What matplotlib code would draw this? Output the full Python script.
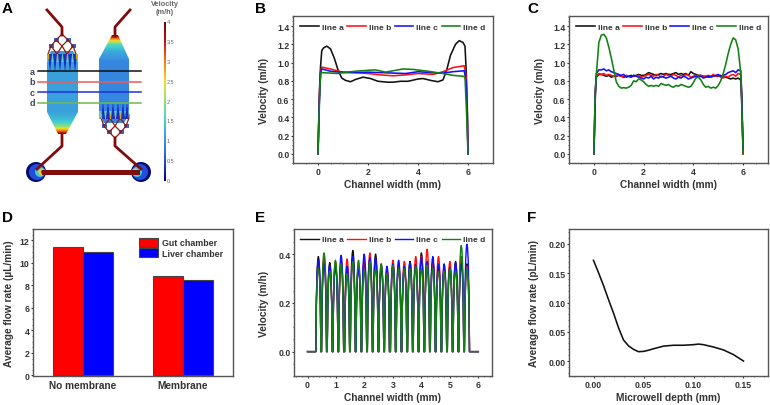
import matplotlib
matplotlib.use("Agg")
import matplotlib.pyplot as plt
import numpy as np
from matplotlib.colors import LinearSegmentedColormap
from matplotlib.patches import Circle, Polygon, Rectangle

plt.rcParams['font.family'] = ['Liberation Sans', 'DejaVu Sans']
plt.rcParams['font.weight'] = 'bold'
plt.rcParams['axes.labelweight'] = 'bold'

W, H = 770, 406
INK = '#333333'
line_names = ['line a', 'line b', 'line c', 'line d']
line_colors = ['#111111', '#ff1010', '#1010ff', '#128012']

# --- panel B ---
b_ax = [0, .03, .06, .1, .15, .22, .35, .5, .65, .8, .95, 1.1, 1.3, 1.5, 1.8, 2.1, 2.4, 2.8, 3.0, 3.3, 3.6, 4.0, 4.2,
        4.5, 4.8, 5.0, 5.15, 5.3, 5.5, 5.65, 5.8, 5.88, 5.93, 5.97, 6.0]
b_ay = [0, .35, .7, .95, 1.13, 1.16, 1.18, 1.15, 1.05, .92, .83, .805, .79, .815, .84, .825, .795, .785, .785, .795, .795, .82, .825,
        .805, .79, .81, .92, 1.08, 1.2, 1.24, 1.22, 1.18, .9, .5, 0]
b_bx = [0, .05, .1, .15, .5, .9, 1.5, 2, 2.5, 3, 3.5, 4, 4.6, 5, 5.4, 5.85, 5.92, 5.97, 6]
b_by = [0, .6, .9, .95, .93, .9, .89, .88, .865, .855, .865, .88, .87, .9, .945, .965, .85, .5, 0]
b_cx = [0, .05, .1, .15, .5, 1, 1.5, 2, 2.5, 3, 3.5, 4, 4.5, 5, 5.4, 5.85, 5.92, 5.97, 6]
b_cy = [0, .55, .88, .93, .905, .89, .89, .895, .89, .885, .88, .9, .89, .885, .9, .91, .8, .45, 0]
b_dx = [0, .04, .08, .12, .5, .8, 1, 1.5, 2, 2.3, 2.7, 3, 3.4, 3.8, 4.4, 5, 5.4, 5.8, 5.88, 5.95, 6]
b_dy = [0, .4, .75, .89, .885, .88, .89, .905, .915, .92, .895, .91, .93, .925, .905, .88, .86, .85, .84, .4, 0]

# --- panel C ---
c_x = [0, .03, .06] + [round(.1 * i, 1) for i in range(1, 60)] + [5.94, 5.97, 6.0]
c_a = [0, .3, .65,
       .84, .87, .87, .86, .85, .86, .84, .85, .85, .86,
       .85, .84, .85, .85, .86, .85, .86, .87, .86, .86,
       .87, .89, .88, .87, .86, .87, .88, .87, .88, .87,
       .87, .88, .89, .87, .88, .87, .88, .86, .90, .88,
       .87, .86, .86, .85, .85, .84, .85, .86, .85, .85,
       .86, .84, .84, .83, .82, .83, .82, .83, .81,
       .6, .3, 0]
c_b = [0, .32, .68,
       .85, .88, .87, .88, .86, .87, .86, .85, .86, .86,
       .85, .85, .86, .85, .84, .86, .85, .86, .84, .85,
       .86, .87, .86, .85, .87, .86, .84, .85, .87, .86,
       .85, .87, .86, .84, .86, .85, .87, .86, .84, .85,
       .86, .85, .86, .84, .85, .86, .85, .87, .85, .86,
       .84, .83, .85, .84, .86, .87, .85, .88, .87,
       .65, .32, 0]
c_c = [0, .35, .7,
       .88, .92, .92, .93, .91, .92, .90, .89, .88, .87,
       .86, .87, .84, .85, .84, .86, .85, .84, .83, .82,
       .84, .83, .85, .82, .84, .83, .85, .84, .83, .84,
       .85, .83, .82, .84, .83, .85, .84, .82, .83, .84,
       .85, .84, .85, .83, .84, .85, .84, .85, .86, .87,
       .85, .86, .87, .89, .90, .91, .89, .92, .91,
       .7, .35, .05]
c_d = [0, .4, .7,
       .87, 1.22, 1.30, 1.31, 1.27, 1.17, 1.05, .92, .79, .74,
       .72, .725, .72, .73, .75, .80, .79, .82, .81, .79,
       .76, .74, .75, .74, .75, .74, .77, .76, .75, .76,
       .74, .73, .75, .74, .76, .75, .74, .73, .74, .78,
       .83, .84, .81, .76, .73, .74, .72, .73, .72, .75,
       .80, .88, .98, 1.10, 1.20, 1.27, 1.25, 1.15, .90,
       .6, .3, 0]

# --- panel D ---
groups = ['No membrane', 'Membrane']
gut_flow = [11.4, 8.8]
liver_flow = [10.95, 8.5]

# --- panel E, peak height of each microwell ---
well_pos = [.38, .58, .78, .98, 1.18, 1.39, 1.59, 1.79, 1.99, 2.19, 2.39, 2.59, 2.79, 3.0,
            3.2, 3.4, 3.6, 3.8, 4.0, 4.2, 4.4, 4.6, 4.8, 5.0, 5.2, 5.4, 5.6]
e_a = [.39, .38, .365, .36, .37, .33, .415, .35, .37, .38, .40, .34, .33, .35, .34, .34, .37, .36, .405, .36, .37, .35, .34, .35, .37, .38, .36]
e_b = [.36, .39, .35, .37, .36, .38, .36, .35, .38, .405, .37, .36, .34, .375, .36, .37, .36, .39, .39, .42, .37, .39, .35, .37, .36, .39, .35]
e_c = [.375, .36, .355, .35, .395, .35, .39, .34, .40, .385, .385, .35, .35, .36, .375, .35, .365, .355, .385, .37, .39, .36, .36, .345, .365, .36, .44]
e_d = [.34, .405, .33, .375, .36, .32, .37, .375, .33, .37, .34, .36, .32, .355, .34, .34, .34, .35, .34, .355, .34, .33, .33, .34, .33, .435, .34]
well_offset = [-.09, -.07, -.045, -.02, 0, .02, .045, .07, .09]
well_shape = [0, .55, .85, .97, 1, .97, .85, .55, 0]

# --- panel F ---
f_x = [0, .005, .01, .015, .02, .025, .03, .035, .04, .045, .05, .055, .06, .07, .08, .09, .1, .105, .11, .12, .13, .14, .15]
f_y = [.172, .151, .129, .105, .082, .057, .036, .026, .020, .016, .0165, .0185, .021, .0255, .027, .027, .028, .029, .028, .024, .019, .011, 0]

# --- panel A ---
cbar_ticks = ['0', '0.5', '1', '1.5', '2', '2.5', '3', '3.5', '4']
field_colors = ['#00007f', '#1f4fdc', '#3a95e0', '#3fd0d0', '#90e080', '#f0e020', '#f08010', '#d01010', '#7f0000']
left_y = [50, 60, 113, 122, 127, 131, 134, 136]
left_v = [1.0, 1.1, 1.1, 1.4, 1.9, 2.8, 3.5, 4.0]
right_y = [36, 38, 41, 45, 52, 62, 124]
right_v = [4.0, 3.4, 2.6, 1.7, 1.2, .9, .9]
left_shape = [(47, 60), (51, 52), (73, 52), (78, 60), (78, 113), (66, 135), (58, 135), (47, 113)]
right_shape = [(112, 36), (118, 36), (129, 60), (129, 115), (124, 124), (104, 124), (99, 115), (99, 60)]


def make_axes(fig, left, top, right, bottom):
    return fig.add_axes([left / W, 1 - bottom / H, (right - left) / W, (bottom - top) / H])


def style_axes(ax, xlabel, ylabel, ypad):
    for s in ax.spines.values():
        s.set_color('#555555')
        s.set_linewidth(1.0)
    ax.minorticks_on()
    ax.tick_params(which='major', direction='out', length=1.6, width=.8, labelsize=6.3, colors=INK, pad=1)
    ax.tick_params(which='minor', direction='out', length=1, width=.5, colors=INK)
    ax.set_xlabel(xlabel, fontsize=7.3, color=INK, labelpad=2.8)
    ax.set_ylabel(ylabel, fontsize=7.3, color=INK, labelpad=ypad)


def add_line_legend(ax):
    ax.legend(loc='upper center', bbox_to_anchor=(.5, 1.0), ncol=4, frameon=False, fontsize=6,
              handlelength=2.25, handleheight=0, handletextpad=.36, columnspacing=.4, borderaxespad=.5,
              labelcolor=INK)


fig = plt.figure(figsize=(W / 100, H / 100), dpi=100)

# schematic on an overlay in pixel coordinates
sk = fig.add_axes([0, 0, 1, 1])
sk.axis('off')
cmap = LinearSegmentedColormap.from_list('field', field_colors)


def fill_field(shape, ys, vs):
    rows = np.linspace(30, 140, 220)
    vals = np.interp(rows, ys, vs).reshape(-1, 1)
    im = sk.imshow(vals, extent=(40, 135, 140, 30), cmap=cmap, vmin=0, vmax=4, aspect='auto', zorder=2)
    im.set_clip_path(Polygon(shape, transform=sk.transData))


def draw_fingers(xs, y_base, y_tip, x_left, x_right):
    mid = y_base + (y_tip - y_base) * .45
    sk.add_patch(Polygon([(x_left, y_base), (x_right, y_base), (x_right, mid), (x_left, mid)],
                         color='#5ccfb0', lw=0, zorder=3))
    for x in xs:
        sk.add_patch(Polygon([(x - 2.1, y_base), (x + 2.1, y_base), (x, y_tip)], color='#1a2fc8', lw=0, zorder=4))


def draw_tree(cx, y0, d):
    # d is +1 when the tree opens downwards, -1 when it opens upwards
    levels = [(0, 0), (-6, 6), (6, 6), (-11, 12), (0, 12), (11, 12), (-14, 20), (-5, 20), (5, 20), (14, 20)]
    edges = [(0, 1), (0, 2), (1, 3), (1, 4), (2, 4), (2, 5), (3, 6), (3, 7), (4, 7), (4, 8), (5, 8), (5, 9)]
    pts = [(cx + dx, y0 + d * dy) for dx, dy in levels]
    for x, y in pts[1:3] + pts[3:6:2]:
        sk.add_patch(Rectangle((x - 2.5, y - 2), 5, 4, color='#3a62c8', lw=0, zorder=3))
    for x, y in [(cx, y0 + d * 6), (cx - 6, y0 + d * 13), (cx + 6, y0 + d * 13)]:
        sk.add_patch(Rectangle((x - 2.4, y - 1.4), 4.8, 2.8, color='white', lw=0, zorder=4))
    for i, j in edges:
        sk.plot([pts[i][0], pts[j][0]], [pts[i][1], pts[j][1]], color='#8b1a10', lw=.9, zorder=5,
                solid_capstyle='round')
    for x, y in pts[6:]:
        sk.plot([x, x], [y, y + d * 4], color='#d8a020', lw=.9, zorder=5)


fill_field(left_shape, left_y, left_v)
fill_field(right_shape, right_y, right_v)
draw_fingers([50, 55, 60, 65, 70, 75], 55, 73, 47, 78)
draw_fingers([103, 108, 113, 118, 123, 127], 120, 103, 99, 129)
draw_tree(62, 35, 1)
draw_tree(115, 139, -1)

tube = '#7f0d0d'
tube_paths = [([47, 62, 62], [11, 28, 36]), ([130, 115, 115], [11, 28, 37]),
              ([62, 62, 37], [135, 147, 170]), ([115, 115, 141], [139, 147, 170])]
for xs, ys in tube_paths:
    sk.plot(xs, ys, color=tube, lw=2.0, zorder=6, solid_joinstyle='round')

for cx, sign in [(36, 1), (141, -1)]:
    sk.add_patch(Circle((cx, 173), 10, color='#0a0a70', lw=0, zorder=3))
    sk.add_patch(Circle((cx + sign * 1, 173), 8, color='#2050d8', lw=0, zorder=4))
    sk.add_patch(Circle((cx + sign * 4, 173), 5, color='#40c8d8', lw=0, zorder=5))
    sk.add_patch(Circle((cx + sign * 6, 173), 3.5, color='#f0d020', lw=0, zorder=6))
    sk.add_patch(Circle((cx + sign * 7, 173), 2.2, color='#e02010', lw=0, zorder=7))
sk.add_patch(Rectangle((42, 170.5), 98, 5.2, color=tube, lw=0, zorder=8))

sec_y = [72.3, 82.7, 93.3, 104]
sec_names = ['a', 'b', 'c', 'd']
sec_colors = ['#111111', '#f05a5a', '#2030e0', '#70b850']
for y, name, col in zip(sec_y, sec_names, sec_colors):
    sk.plot([38, 141], [y, y], color=col, lw=1.1, zorder=9)
    sk.text(32, y, name, fontsize=6.5, color='#444455', ha='center', va='center', zorder=9)

grad = np.linspace(4, 0, 256).reshape(-1, 1)
sk.imshow(grad, extent=(164, 165.8, 181.5, 22.5), cmap=cmap, vmin=0, vmax=4, aspect='auto', zorder=3)
for i, lab in enumerate(cbar_ticks):
    sk.text(167, 181.5 - i * 19.85, lab, fontsize=4, color='#666666', va='center', weight='normal')
sk.text(164.5, 8.5, 'Velocity\n(m/h)', fontsize=5.3, color='#666666', ha='center', va='center', linespacing=1.1)

letters = [('A', 2, 9), ('B', 255, 9), ('C', 527, 9), ('D', 2, 218), ('E', 255, 218), ('F', 527, 218)]
for s, x, y in letters:
    sk.text(x, y, s, fontsize=11, color='black', va='center', ha='left', weight='bold')
sk.set_xlim(0, W)
sk.set_ylim(H, 0)

# panel B
ax = make_axes(fig, 293, 17, 493, 164)
for x, y, n, c in zip([b_ax, b_bx, b_cx, b_dx], [b_ay, b_by, b_cy, b_dy], line_names, line_colors):
    ax.plot(x, y, color=c, lw=1.15, label=n)
ax.set_xlim(-1, 7)
ax.set_ylim(-.1, 1.51)
ax.set_xticks([0, 2, 4, 6])
ax.set_yticks(np.arange(0, 1.5, .2))
style_axes(ax, 'Channel width (mm)', 'Velocity (m/h)', 5.7)
add_line_legend(ax)

# panel C
ax = make_axes(fig, 569, 17, 768, 164)
for y, n, c in zip([c_a, c_b, c_c, c_d], line_names, line_colors):
    ax.plot(c_x, y, color=c, lw=1.15, label=n)
ax.set_xlim(-1, 7)
ax.set_ylim(-.1, 1.51)
ax.set_xticks([0, 2, 4, 6])
ax.set_yticks(np.arange(0, 1.5, .2))
style_axes(ax, 'Channel width (mm)', 'Velocity (m/h)', 5.7)
add_line_legend(ax)

# panel D
ax = make_axes(fig, 33, 230, 233, 377)
pos = np.arange(len(groups))
width = .3
ax.bar(pos - width / 2, gut_flow, width, color='#ff0000', edgecolor='#444444', lw=.8, label='Gut chamber')
ax.bar(pos + width / 2, liver_flow, width, color='#0000ff', edgecolor='#444444', lw=.8, label='Liver chamber')
ax.set_xlim(-.5, 1.5)
ax.set_ylim(-.05, 13)
ax.set_yticks(np.arange(0, 13, 2))
style_axes(ax, '', 'Average flow rate (µL/min)', 4.3)
ax.set_xticks(pos)
ax.set_xticklabels(groups, fontsize=7.3)
ax.tick_params(axis='x', which='minor', bottom=False)
ax.tick_params(axis='x', which='major', length=0, pad=3)
ax.legend(loc='upper right', bbox_to_anchor=(.975, .975), frameon=False, fontsize=6.4, handlelength=2.14,
          handleheight=1.12, handletextpad=.35, labelspacing=.1, borderaxespad=.2, labelcolor=INK)

# panel E
ax = make_axes(fig, 294, 230, 492, 377)
for peaks, n, c in zip([e_a, e_b, e_c, e_d], line_names, line_colors):
    x = [0.0]
    y = [0.0]
    for p, h in zip(well_pos, peaks):
        x += [p + o for o in well_offset]
        y += [h * s for s in well_shape]
    x.append(6.0)
    y.append(0.0)
    ax.plot(x, y, color=c, lw=1.0, label=n)
ax.set_xlim(-.476, 6.48)
ax.set_ylim(-.1, .503)
ax.set_xticks(range(7))
ax.set_yticks([0, .2, .4])
style_axes(ax, 'Channel width (mm)', 'Velocity (m/h)', 6.5)
add_line_legend(ax)

# panel F
ax = make_axes(fig, 569, 230, 768, 377)
ax.plot(f_x, f_y, color='#111111', lw=1.15)
ax.set_xlim(-.0245, .1745)
ax.set_ylim(-.0255, .2255)
ax.set_xticks([0, .05, .1, .15])
ax.set_yticks([0, .05, .1, .15, .2])
ax.xaxis.set_major_formatter('{x:.2f}')
ax.yaxis.set_major_formatter('{x:.2f}')
style_axes(ax, 'Microwell depth (mm)', 'Average flow rate (pL/min)', 6.4)

fig.savefig('out.png', dpi=100)
